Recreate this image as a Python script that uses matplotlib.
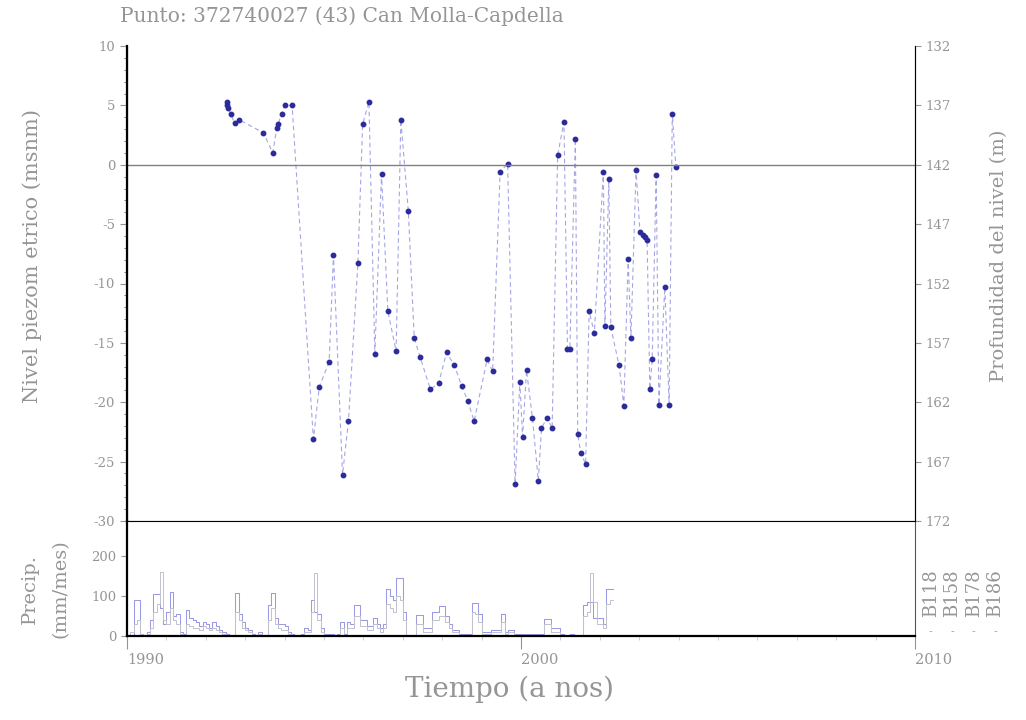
import matplotlib.pyplot as plt
import numpy as np

plt.rcParams['axes.unicode_minus'] = False

# piezometric level (m a.s.l.) vs decimal year
fechas = [1992.53, 1992.55, 1992.56, 1992.63, 1992.73, 1992.84, 1993.46, 1993.70,
          1993.80, 1993.83, 1993.93, 1994.00, 1994.19, 1994.73, 1994.88, 1995.13,
          1995.24, 1995.47, 1995.62, 1995.86, 1995.98, 1996.14, 1996.29, 1996.46,
          1996.62, 1996.83, 1996.95, 1997.14, 1997.29, 1997.44, 1997.70, 1997.91,
          1998.11, 1998.31, 1998.49, 1998.65, 1998.81, 1999.14, 1999.28, 1999.47,
          1999.66, 1999.85, 1999.97, 2000.04, 2000.14, 2000.29, 2000.44, 2000.52,
          2000.66, 2000.79, 2000.93, 2001.09, 2001.18, 2001.24, 2001.38, 2001.44,
          2001.52, 2001.64, 2001.73, 2001.86, 2002.09, 2002.13, 2002.23, 2002.28,
          2002.49, 2002.61, 2002.72, 2002.79, 2002.92, 2003.02, 2003.09, 2003.15,
          2003.20, 2003.27, 2003.33, 2003.43, 2003.50, 2003.65, 2003.76, 2003.84,
          2003.93]
nivel = [5.3, 5.0, 4.8, 4.3, 3.5, 3.8, 2.7, 1.0,
         3.1, 3.4, 4.3, 5.0, 5.0, -23.1, -18.7, -16.6,
         -7.6, -26.1, -21.6, -8.3, 3.4, 5.3, -15.9, -0.8,
         -12.3, -15.7, 3.8, -3.9, -14.6, -16.2, -18.9, -18.4,
         -15.8, -16.9, -18.6, -19.9, -21.6, -16.4, -17.4, -0.6,
         0.1, -26.9, -18.3, -22.9, -17.3, -21.3, -26.6, -22.2,
         -21.3, -22.2, 0.8, 3.6, -15.5, -15.5, 2.2, -22.7,
         -24.3, -25.2, -12.3, -14.2, -0.6, -13.6, -1.2, -13.7,
         -16.9, -20.3, -7.9, -14.6, -0.4, -5.7, -5.9, -6.1,
         -6.3, -18.9, -16.4, -0.9, -20.2, -10.3, -20.2, 4.3,
         -0.2]

# monthly precipitation (mm/mes), Jan 1990 onwards
B118 = [0, 0, 90, 90, 5, 0, 10, 40, 105, 105, 70, 30,
        60, 110, 50, 55, 10, 5, 65, 45, 40, 35, 25, 35,
        30, 20, 35, 25, 15, 10, 5, 0, 0, 107, 55, 35,
        20, 15, 5, 0, 10, 0, 0, 77, 107, 45, 30, 30,
        25, 10, 5, 0, 0, 5, 20, 15, 90, 60, 55, 20,
        5, 5, 5, 0, 5, 35, 5, 35, 30, 77, 77, 40,
        40, 25, 25, 45, 30, 20, 30, 117, 100, 90, 144, 144,
        60, 0, 0, 0, 52, 52, 20, 20, 20, 60, 60, 75,
        75, 50, 30, 15, 15, 5, 5, 5, 5, 82, 82, 55,
        10, 10, 10, 15, 15, 15, 55, 10, 15, 15, 5, 5,
        5, 5, 5, 5, 5, 5, 5, 43, 43, 20, 20, 20,
        5, 0, 0, 5, 0, 0, 0, 77, 85, 85, 45, 45,
        45, 30, 117, 117]
B158 = [0, 10, 30, 40, 5, 0, 5, 20, 60, 80, 160, 40,
        30, 70, 40, 30, 5, 0, 30, 25, 20, 20, 15, 25,
        20, 15, 20, 15, 10, 5, 0, 0, 0, 60, 40, 20,
        15, 10, 0, 0, 5, 0, 0, 40, 70, 30, 20, 15,
        15, 5, 0, 0, 0, 0, 10, 10, 60, 157, 40, 10,
        0, 0, 0, 0, 0, 20, 0, 20, 20, 50, 50, 25,
        25, 15, 15, 30, 20, 10, 20, 80, 70, 60, 100, 90,
        40, 0, 0, 0, 30, 30, 10, 10, 10, 40, 40, 50,
        50, 35, 20, 10, 10, 0, 0, 0, 0, 60, 55, 35,
        5, 5, 5, 10, 10, 10, 35, 5, 10, 10, 0, 0,
        0, 0, 0, 0, 0, 0, 0, 30, 30, 10, 10, 10,
        0, 0, 0, 0, 0, 0, 0, 50, 60, 157, 85, 30,
        30, 20, 80, 90]
estaciones = ['B118', 'B158', 'B178', 'B186']

gris = '#959595'
serif = 'DejaVu Serif'

fig = plt.figure(figsize=(10.26, 7.2), dpi=100)
ax = fig.add_axes([0.1238, 0.2764, 0.768, 0.6597])
axp = fig.add_axes([0.1238, 0.1167, 0.768, 0.1597], sharex=ax)

# level series
ax.plot(fechas, nivel, ls=(0, (4, 3)), lw=0.8, color='#a5a5e5')
ax.plot(fechas, nivel, ls='none', marker='o', ms=3.2, color='#2b2b9c')
ax.axhline(0, color='#808080', lw=1)
ax.set_xlim(1990, 2010)
ax.set_ylim(-30, 10)
ax.set_yticks(np.arange(-30, 11, 5))
ax.set_yticks(np.arange(-30, 11, 1), minor=True)
ax.tick_params(axis='y', which='major', length=5, colors=gris, labelsize=9.5)
ax.tick_params(axis='y', which='minor', length=2, colors='#666666')
ax.tick_params(axis='x', which='both', bottom=False, labelbottom=False)
for lab in ax.get_yticklabels():
    lab.set_family(serif)
ax.spines['top'].set_visible(False)
ax.spines['left'].set_linewidth(1.6)
ax.spines['bottom'].set_color('#555555')
ax.spines['right'].set_color('#555555')

ax2 = ax.twinx()
ax2.set_ylim(172, 132)
ax2.set_yticks(np.arange(132, 173, 5))
ax2.tick_params(axis='y', length=4, colors=gris, labelsize=9.5)
for lab in ax2.get_yticklabels():
    lab.set_family(serif)
ax2.spines['top'].set_visible(False)

# precipitation
meses = 1990 + np.arange(len(B118) + 1) / 12
axp.step(meses, B118 + [B118[-1]], where='post', color='#9a9ae6', lw=0.75)
axp.step(meses, B158 + [B158[-1]], where='post', color='#c2c2cf', lw=0.7)
axp.set_ylim(0, 287)
axp.set_yticks([0, 100, 200])
axp.tick_params(axis='y', length=4, colors=gris, labelsize=9.5)
for lab in axp.get_yticklabels():
    lab.set_family(serif)
axp.set_xticks([1990, 2000, 2010])
axp.set_xticks(np.arange(1990, 2011, 1), minor=True)
axp.set_xticklabels(['1990', '2000', '2010'], family=serif, fontsize=10.5,
                    color=gris, ha='left')
axp.tick_params(axis='x', which='major', length=9, color=gris, pad=3)
axp.tick_params(axis='x', which='minor', length=3, color='#c5c5c5')
axp.spines['top'].set_visible(False)
axp.spines['left'].set_linewidth(1.6)
axp.spines['bottom'].set_linewidth(1.6)
axp.spines['right'].set_color('#555555')

# legend of stations, rotated
for i, nombre in enumerate(estaciones):
    xf = 0.907 + i * 0.021
    fig.text(xf, 0.176, nombre, rotation=90, family=serif, fontsize=13,
             color=gris, ha='center', va='center')
    fig.text(xf, 0.122, '-', family=serif, fontsize=8, color='#aaaaaa',
             ha='center', va='center')

fig.text(0.117, 0.978, 'Punto: 372740027 (43) Can Molla-Capdella', family=serif,
         fontsize=14.5, color=gris, ha='left', va='center')
fig.text(0.031, 0.645, 'Nivel piezom etrico (msnm)', rotation=90, family=serif,
         fontsize=15, color=gris, ha='center', va='center')
fig.text(0.974, 0.645, 'Profundidad del nivel (m)', rotation=90, family=serif,
         fontsize=14, color=gris, ha='center', va='center')
fig.text(0.029, 0.182, 'Precip.', rotation=90, family=serif,
         fontsize=14, color=gris, ha='center', va='center')
fig.text(0.059, 0.182, '(mm/mes)', rotation=90, family=serif,
         fontsize=14, color=gris, ha='center', va='center')
fig.text(0.497, 0.043, 'Tiempo (a nos)', family=serif, fontsize=20,
         color=gris, ha='center', va='center')

fig.savefig('out.png', dpi=100)
